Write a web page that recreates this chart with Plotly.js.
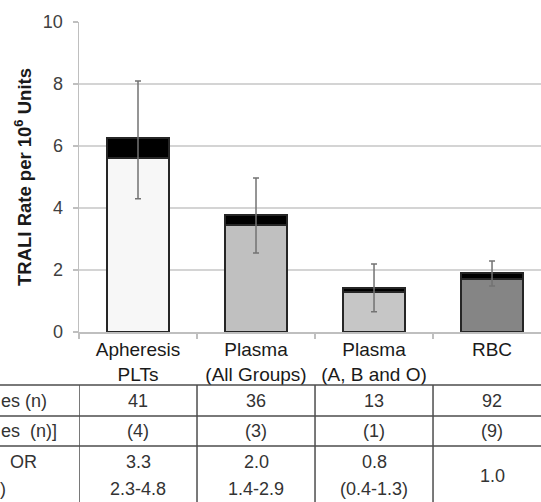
<!DOCTYPE html>
<html>
<head>
<meta charset="utf-8">
<script src="https://cdn.plot.ly/plotly-3.0.1.min.js"></script>
<style>html,body{margin:0;padding:0;background:#fff;}#chart{width:541px;height:502px;}</style>
</head>
<body>
<div id="chart"></div>
<script>
// ---- data ----
const categories = ["Apheresis PLTs", "Plasma (All Groups)", "Plasma (A, B and O)", "RBC"];
const tickLabels = ["Apheresis<br>PLTs", "Plasma<br>(All Groups)", "Plasma<br>(A, B and O)", "RBC"];
const nonFatalRate = [5.62, 3.45, 1.29, 1.71];   // lower (coloured) segment
const fatalRate    = [0.63, 0.32, 0.13, 0.19];   // upper (black) segment
const ciLow  = [4.3, 2.55, 0.65, 1.48];
const ciHigh = [8.1, 4.97, 2.19, 2.29];
const barColors = ["#f7f7f7", "#c0c0c0", "#c6c6c6", "#858585"];

const rowLabels = ["es (n)", "es  (n)]", "OR", ")"];
const traliCases = ["41", "36", "13", "92"];
const fatalCases = ["(4)", "(3)", "(1)", "(9)"];
const adjOR      = ["3.3", "2.0", "0.8", "1.0"];
const orCI       = ["2.3-4.8", "1.4-2.9", "(0.4-1.3)", ""];

// ---- build chart ----
const totals = nonFatalRate.map((v, i) => v + fatalRate[i]);
const font = "Liberation Sans, Arial, sans-serif";
const txtColor = "#333333";

const traces = [
  {
    type: "bar", x: categories, y: nonFatalRate, width: 0.53,
    marker: {color: barColors, line: {color: "#262626", width: 2}},
    hoverinfo: "skip", showlegend: false
  },
  {
    type: "bar", x: categories, y: fatalRate, width: 0.53,
    marker: {color: "#000000", line: {color: "#262626", width: 2}},
    hoverinfo: "skip", showlegend: false
  },
  {
    type: "scatter", mode: "markers", x: categories, y: totals,
    marker: {opacity: 0, size: 1},
    error_y: {
      type: "data", symmetric: false,
      array: ciHigh.map((v, i) => v - totals[i]),
      arrayminus: ciLow.map((v, i) => totals[i] - v),
      color: "#737373", thickness: 1.5, width: 3
    },
    hoverinfo: "skip", showlegend: false
  }
];

// table geometry (paper coordinates below the plot)
const lineYs = [-0.171, -0.271, -0.368];
const tableBottom = -0.56;
const shapes = [];
lineYs.forEach(y => shapes.push({
  type: "line", xref: "paper", yref: "paper", x0: -0.2, x1: 1.05, y0: y, y1: y,
  line: {color: "#4d4d4d", width: 1.5}
}));
[-0.5, 0.5, 1.5, 2.5].forEach(x => shapes.push({
  type: "line", xref: "x", yref: "paper", x0: x, x1: x, y0: lineYs[0], y1: tableBottom,
  line: {color: "#4d4d4d", width: 1.5}
}));

const annotations = [];
const tf = {family: font, size: 18, color: txtColor};
function addRow(arr, y) {
  arr.forEach((t, i) => {
    if (t === "") return;
    annotations.push({xref: "x", yref: "paper", x: i, y: y, text: t, showarrow: false,
      xanchor: "center", yanchor: "middle", font: tf});
  });
}
addRow(traliCases, -0.222);
addRow(fatalCases, -0.319);
addRow(adjOR.slice(0, 3), -0.42);
addRow(orCI, -0.508);
annotations.push({xref: "x", yref: "paper", x: 3, y: -0.463, text: adjOR[3], showarrow: false,
  xanchor: "center", yanchor: "middle", font: tf});

// row labels (cut off at left edge in the reference)
const px = v => v / 462; // pixel offset from plot left -> paper
annotations.push({xref: "paper", yref: "paper", x: px(-80), y: -0.222, text: rowLabels[0], showarrow: false, xanchor: "left", yanchor: "middle", font: tf});
annotations.push({xref: "paper", yref: "paper", x: px(-80), y: -0.319, text: rowLabels[1], showarrow: false, xanchor: "left", yanchor: "middle", font: tf});
annotations.push({xref: "paper", yref: "paper", x: px(-71), y: -0.42, text: rowLabels[2], showarrow: false, xanchor: "left", yanchor: "middle", font: tf});
annotations.push({xref: "paper", yref: "paper", x: px(-81), y: -0.508, text: rowLabels[3], showarrow: false, xanchor: "left", yanchor: "middle", font: tf});

const layout = {
  width: 541, height: 502,
  margin: {l: 79, r: 0, t: 22, b: 170, pad: 0},
  paper_bgcolor: "#ffffff", plot_bgcolor: "#ffffff",
  barmode: "stack",
  font: {family: font, color: txtColor},
  xaxis: {
    type: "category", range: [-0.5, 3.415],
    tickvals: categories, ticktext: tickLabels,
    tickson: "boundaries", ticks: "outside", ticklen: 5, tickcolor: "#bfbfbf", tickwidth: 1.5,
    showline: true, linecolor: "#bfbfbf", linewidth: 1.5,
    showgrid: false, zeroline: false,
    tickfont: {family: font, size: 19, color: "#1a1a1a"},
    fixedrange: true
  },
  yaxis: {
    range: [0, 10], tickvals: [0, 2, 4, 6, 8, 10],
    ticks: "outside", ticklen: 5, tickcolor: "#bfbfbf", tickwidth: 1.5,
    ticklabelstandoff: 6,
    showline: true, linecolor: "#bfbfbf", linewidth: 1.5,
    showgrid: true, gridcolor: "#d4d4d4", gridwidth: 1.5, zeroline: false,
    tickfont: {family: font, size: 18, color: "#404040"},
    title: {text: "<b>TRALI Rate per 10<sup>6</sup> Units</b>", font: {family: font, size: 18.5, color: "#1a1a1a"}, standoff: 6},
    fixedrange: true
  },
  shapes: shapes,
  annotations: annotations,
  showlegend: false
};

Plotly.newPlot("chart", traces, layout, {displayModeBar: false, staticPlot: true});
</script>
</body>
</html>
